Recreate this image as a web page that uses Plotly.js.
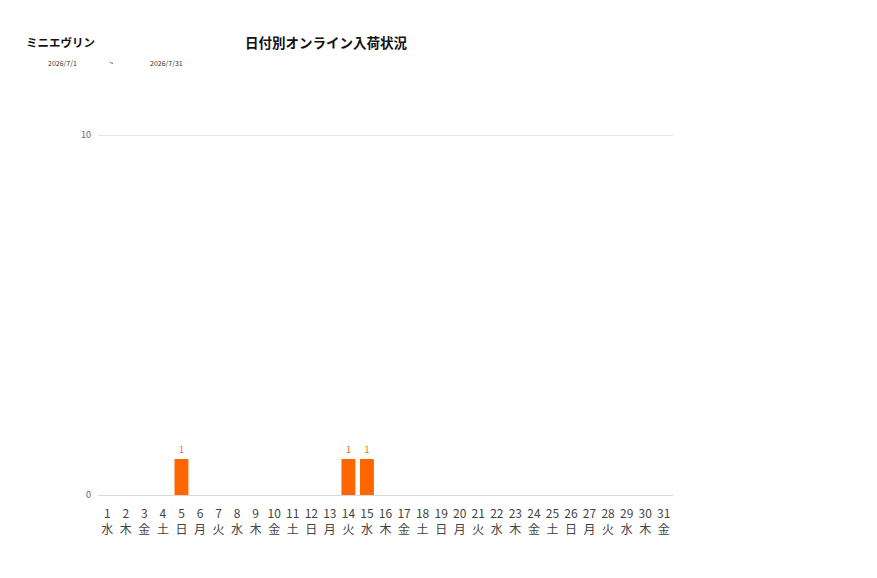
<!DOCTYPE html>
<html>
<head>
<meta charset="utf-8">
<script src="https://cdn.plot.ly/plotly-3.0.1.min.js"></script>
<style>
  body { margin: 0; background: #fff; }
  #chart { width: 877px; height: 578px; }
</style>
</head>
<body>
<div id="chart"></div>
<script>
var days = ['1', '2', '3', '4', '5', '6', '7', '8', '9', '10', '11', '12', '13', '14', '15', '16',
  '17', '18', '19', '20', '21', '22', '23', '24', '25', '26', '27', '28', '29', '30', '31'];
var weekdays = ['水', '木', '金', '土', '日', '月', '火', '水', '木', '金', '土', '日', '月', '火', '水', '木',
  '金', '土', '日', '月', '火', '水', '木', '金', '土', '日', '月', '火', '水', '木', '金'];
var arrivals = [0, 0, 0, 0, 1, 0, 0, 0, 0, 0, 0, 0, 0, 1, 1, 0,
  0, 0, 0, 0, 0, 0, 0, 0, 0, 0, 0, 0, 0, 0, 0];
var yTicks = [0, 10];

var labels = days.map(function (d, i) { return d + '<br>' + weekdays[i]; });
var barText = arrivals.map(function (v) { return v > 0 ? String(v) : ''; });

var font = '"Noto Sans CJK JP", "Noto Sans", sans-serif';

var trace = {
  x: labels,
  y: arrivals,
  type: 'bar',
  marker: { color: '#ff6600' },
  text: barText,
  textposition: 'outside',
  cliponaxis: false,
  textfont: { size: 9, color: '#ff6600', family: font },
  hoverinfo: 'none'
};

// plot height 378px, range 0..10.5 -> 36px per unit, so 10 sits at y=135
var layout = {
  width: 877,
  height: 578,
  margin: { l: 98, r: 204, t: 117, b: 83 },
  paper_bgcolor: '#fff',
  plot_bgcolor: '#fff',
  showlegend: false,
  bargap: 0.25,
  font: { family: font, color: '#444' },
  xaxis: {
    type: 'category',
    tickfont: { size: 12, color: '#444' },
    ticklabelstandoff: 10,
    showgrid: false,
    showline: false,
    ticks: '',
    fixedrange: true
  },
  yaxis: {
    range: [0, 10.5],
    tickvals: yTicks,
    ticktext: yTicks.map(String),
    tickfont: { size: 9, color: '#666' },
    ticklabelstandoff: 6,
    showgrid: true,
    gridcolor: '#e6e6e6',
    gridwidth: 1,
    zeroline: true,
    zerolinecolor: '#d9d9d9',
    zerolinewidth: 1,
    ticks: '',
    fixedrange: true
  },
  annotations: [
    { text: '<b>ミニエヴリン</b>', xref: 'paper', yref: 'paper', x: -0.128, y: 1.198,
      xanchor: 'left', yanchor: 'middle', showarrow: false,
      font: { size: 11.5, color: '#111', family: font } },
    { text: '<b>日付別オンライン入荷状況</b>', xref: 'paper', yref: 'paper', x: 0.398, y: 1.198,
      xanchor: 'center', yanchor: 'middle', showarrow: false,
      font: { size: 13.5, color: '#111', family: font } },
    { text: '2026/7/1', xref: 'paper', yref: 'paper', x: -0.091, y: 1.143,
      xanchor: 'left', yanchor: 'middle', showarrow: false,
      font: { size: 7, color: '#333', family: font } },
    { text: '~', xref: 'paper', yref: 'paper', x: 0.024, y: 1.143,
      xanchor: 'center', yanchor: 'middle', showarrow: false,
      font: { size: 8, color: '#333', family: font } },
    { text: '2026/7/31', xref: 'paper', yref: 'paper', x: 0.087, y: 1.143,
      xanchor: 'left', yanchor: 'middle', showarrow: false,
      font: { size: 7, color: '#333', family: font } }
  ]
};

Plotly.newPlot('chart', [trace], layout, { displayModeBar: false, staticPlot: true });
</script>
</body>
</html>
